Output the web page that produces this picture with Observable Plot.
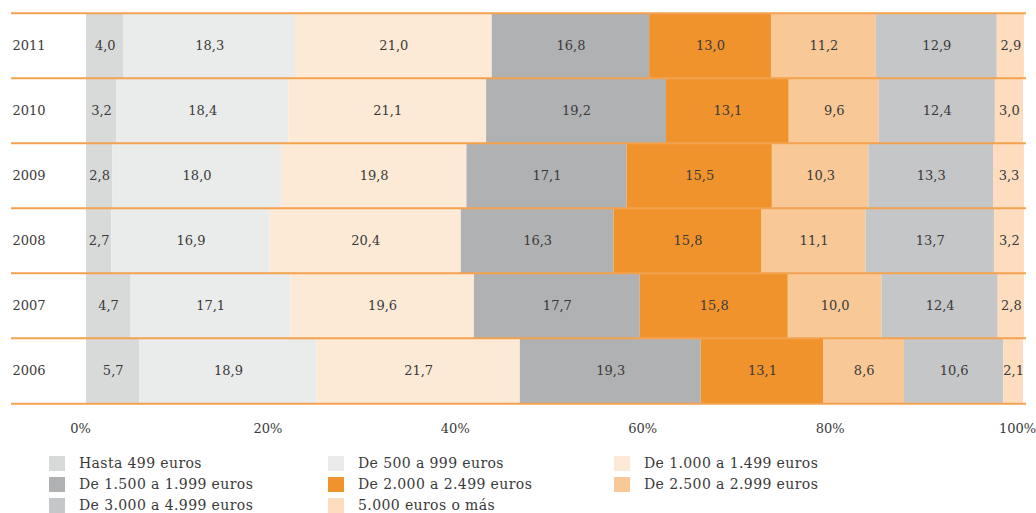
<!DOCTYPE html>
<html>
<head>
<meta charset="utf-8">
<script src="https://cdn.jsdelivr.net/npm/d3@7"></script>
<script src="https://cdn.jsdelivr.net/npm/@observablehq/plot@0.6"></script>
<style>
  html, body { margin: 0; padding: 0; background: #fff; }
  #chart svg { display: block; }
  .legend { position: relative; height: 68px; font-family: "DejaVu Serif", serif; font-size: 14px; letter-spacing: 0.4px; color: #3a3a3a; }
  .item { position: absolute; display: flex; align-items: center; height: 20px; white-space: nowrap; }
  .sw { width: 16px; height: 15px; margin-right: 14px; flex: none; }
</style>
</head>
<body>
<div id="chart"></div>
<div class="legend" id="legend"></div>
<script>
const years = ["2011", "2010", "2009", "2008", "2007", "2006"];
const categories = [
  "Hasta 499 euros",
  "De 500 a 999 euros",
  "De 1.000 a 1.499 euros",
  "De 1.500 a 1.999 euros",
  "De 2.000 a 2.499 euros",
  "De 2.500 a 2.999 euros",
  "De 3.000 a 4.999 euros",
  "5.000 euros o más"
];
const colors = ["#D8D9D9", "#EAEBEB", "#FDEAD6", "#B0B1B2", "#F0932C", "#F8C897", "#C5C6C8", "#FDDDBE"];
const v2011 = [4.0, 18.3, 21.0, 16.8, 13.0, 11.2, 12.9, 2.9];
const v2010 = [3.2, 18.4, 21.1, 19.2, 13.1, 9.6, 12.4, 3.0];
const v2009 = [2.8, 18.0, 19.8, 17.1, 15.5, 10.3, 13.3, 3.3];
const v2008 = [2.7, 16.9, 20.4, 16.3, 15.8, 11.1, 13.7, 3.2];
const v2007 = [4.7, 17.1, 19.6, 17.7, 15.8, 10.0, 12.4, 2.8];
const v2006 = [5.7, 18.9, 21.7, 19.3, 13.1, 8.6, 10.6, 2.1];
const xTicks = [0, 20, 40, 60, 80, 100];

const series = {"2011": v2011, "2010": v2010, "2009": v2009, "2008": v2008, "2007": v2007, "2006": v2006};
const data = [];
for (const y of years) series[y].forEach((v, i) => data.push({year: y, cat: categories[i], value: v}));

const W = 1036, H = 445, mT = 11.7, mB = 41.5;
const bw = (H - mT - mB) / years.length;
const fmt = v => d3.format(".1f")(v).replace(".", ",");
const lineColor = "#F3A24F";
const textColor = "#3a3a3a";

const chart = Plot.plot({
  width: W, height: H,
  marginLeft: 11, marginRight: 10, marginTop: mT, marginBottom: mB,
  x: {domain: [0, 100], range: [86, 1023], label: null},
  y: {domain: years, padding: 0, axis: null, label: null},
  color: {domain: categories, range: colors},
  style: {fontFamily: "DejaVu Serif, serif", fontSize: "13px", color: textColor, background: "#fff"},
  marks: [
    Plot.barX(data, {x: "value", y: "year", fill: "cat", order: categories}),
    Plot.text(data, Plot.stackX({x: "value", y: "year", z: "cat", order: categories, text: d => fmt(d.value), fill: textColor, fontSize: 13})),
    Plot.ruleY(years, {y: d => d, dy: -bw / 2, stroke: lineColor, strokeWidth: 2}),
    Plot.ruleY(years.slice(-1), {y: d => d, dy: bw / 2, stroke: lineColor, strokeWidth: 2}),
    Plot.text(years, {y: d => d, text: d => d, frameAnchor: "left", textAnchor: "start", dx: 1, fill: textColor, fontSize: 13}),
    Plot.axisX({ticks: xTicks, tickFormat: d => d + "%", tickSize: 0, tickPadding: 20, dx: -6, label: null, fill: textColor, fontSize: 13})
  ]
});
document.getElementById("chart").appendChild(chart);

const legend = document.getElementById("legend");
const xs = [49, 328, 614];
categories.forEach((c, i) => {
  const row = Math.floor(i / 3), col = i % 3;
  const el = document.createElement("div");
  el.className = "item";
  el.style.left = xs[col] + "px";
  el.style.top = (8 + row * 21) + "px";
  el.innerHTML = `<span class="sw" style="background:${colors[i]}"></span><span>${c}</span>`;
  legend.appendChild(el);
});
</script>
</body>
</html>
